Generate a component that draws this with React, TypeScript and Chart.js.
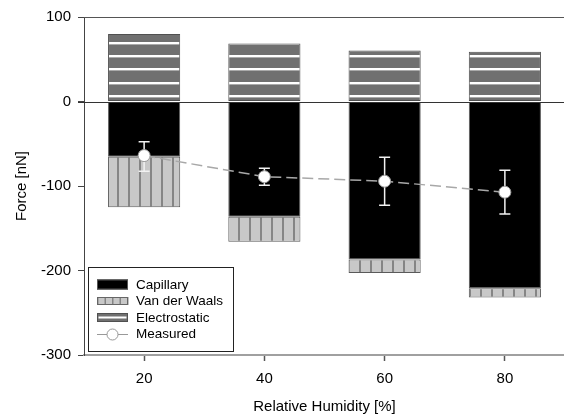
import React, { useEffect, useRef } from "react";
import { Chart, registerables } from "chart.js";

Chart.register(...registerables);

const categories = ["20", "40", "60", "80"];
const capillary = [-65.5, -136.5, -187, -221];
const vanDerWaals = [-59.5, -29.5, -16, -11];
const electrostatic = [80, 68.5, 60.5, 59];
const measured = [-64, -89, -94.3, -107.3];
const measuredHigh = [-47.7, -79, -66, -81.3];
const measuredLow = [-82.5, -99, -122.7, -133];
const yMin = -300;
const yMax = 100;
const yStep = 100;

const FONT = "'Liberation Sans', Arial, sans-serif";
const CANVAS_W = 572;
const CANVAS_H = 417;

function makeHPattern(ctx: CanvasRenderingContext2D) {
  const c = document.createElement("canvas");
  c.width = 8;
  c.height = 40;
  const g = c.getContext("2d")!;
  g.fillStyle = "#707070";
  g.fillRect(0, 0, 8, 40);
  [0, 13, 27].forEach((y) => {
    g.fillStyle = "#ffffff";
    g.fillRect(0, y, 8, 2);
    g.fillStyle = "#d0d0d0";
    g.fillRect(0, y + 2, 8, 0.6);
  });
  const p = ctx.createPattern(c, "repeat")!;
  try {
    p.setTransform(new DOMMatrix().translate(0, 15));
  } catch (e) {}
  return p;
}

function makeVPattern(ctx: CanvasRenderingContext2D) {
  const c = document.createElement("canvas");
  c.width = 11;
  c.height = 8;
  const g = c.getContext("2d")!;
  g.fillStyle = "#c8c8c8";
  g.fillRect(0, 0, 11, 8);
  g.fillStyle = "#858585";
  g.fillRect(0, 0, 2, 8);
  const p = ctx.createPattern(c, "repeat")!;
  try {
    p.setTransform(new DOMMatrix().translate(7, 0));
  } catch (e) {}
  return p;
}

const errorBarPlugin = {
  id: "errorBars",
  beforeDatasetDraw(chart: any, args: any) {
    if (args.index !== 0) return;
    const ctx = chart.ctx;
    const xs = chart.scales.x;
    const ys = chart.scales.y;
    ctx.save();
    ctx.strokeStyle = "#f2f2f2";
    ctx.lineWidth = 1.5;
    for (let i = 0; i < measured.length; i++) {
      const x = xs.getPixelForValue(i);
      const yh = ys.getPixelForValue(measuredHigh[i]);
      const yl = ys.getPixelForValue(measuredLow[i]);
      ctx.beginPath();
      ctx.moveTo(x, yh);
      ctx.lineTo(x, yl);
      ctx.moveTo(x - 5.5, yh);
      ctx.lineTo(x + 5.5, yh);
      ctx.moveTo(x - 5.5, yl);
      ctx.lineTo(x + 5.5, yl);
      ctx.stroke();
    }
    ctx.restore();
  },
};

const framePlugin = {
  id: "frame",
  afterDatasetsDraw(chart: any) {
    const { ctx, chartArea } = chart;
    ctx.save();
    ctx.strokeStyle = "#555555";
    ctx.lineWidth = 1;
    ctx.beginPath();
    ctx.moveTo(chartArea.left, chartArea.top + 0.5);
    ctx.lineTo(chartArea.right, chartArea.top + 0.5);
    ctx.stroke();
    const y0 = Math.round(chart.scales.y.getPixelForValue(0)) + 0.5;
    ctx.strokeStyle = "#333333";
    ctx.beginPath();
    ctx.moveTo(chartArea.left - 6, y0);
    ctx.lineTo(chartArea.right, y0);
    ctx.stroke();
    ctx.restore();
  },
};

const legendPlugin = {
  id: "customLegend",
  afterDraw(chart: any) {
    const ctx = chart.ctx;
    const ds = chart.data.datasets;
    const bx = 88.5, by = 267.5, bw = 145, bh = 84;
    ctx.save();
    ctx.fillStyle = "#ffffff";
    ctx.fillRect(bx, by, bw, bh);
    ctx.strokeStyle = "#222222";
    ctx.lineWidth = 1;
    ctx.strokeRect(bx, by, bw, bh);
    const sx = 97, sw = 31;
    const rows = [284.5, 301, 317.5, 334];
    // Capillary
    ctx.fillStyle = "#000000";
    ctx.fillRect(sx, rows[0] - 5, sw, 10);
    ctx.strokeStyle = "#555";
    ctx.strokeRect(sx + 0.5, rows[0] - 4.5, sw - 1, 9);
    // Van der Waals
    ctx.fillStyle = "#c8c8c8";
    ctx.fillRect(sx, rows[1] - 4, sw, 8);
    ctx.fillStyle = "#858585";
    for (let xx = sx; xx <= sx + sw; xx += 7.5) ctx.fillRect(xx, rows[1] - 4, 1.5, 8);
    ctx.strokeStyle = "#666";
    ctx.strokeRect(sx + 0.5, rows[1] - 3.5, sw - 1, 7);
    // Electrostatic
    ctx.fillStyle = "#707070";
    ctx.fillRect(sx, rows[2] - 4.5, sw, 9);
    ctx.fillStyle = "#ffffff";
    ctx.fillRect(sx + 1.5, rows[2] - 1, sw - 3, 2);
    ctx.strokeStyle = "#505050";
    ctx.strokeRect(sx + 0.5, rows[2] - 4, sw - 1, 8);
    // Measured
    ctx.strokeStyle = "#999999";
    ctx.lineWidth = 1;
    ctx.beginPath();
    ctx.moveTo(sx, rows[3] + 0.5);
    ctx.lineTo(sx + sw, rows[3] + 0.5);
    ctx.stroke();
    ctx.beginPath();
    ctx.arc(sx + sw / 2, rows[3] + 0.5, 5.5, 0, Math.PI * 2);
    ctx.fillStyle = "#ffffff";
    ctx.fill();
    ctx.stroke();
    // labels
    const order = [1, 2, 3, 0];
    ctx.fillStyle = "#000000";
    ctx.font = `13.5px ${FONT}`;
    ctx.textBaseline = "middle";
    ctx.textAlign = "left";
    order.forEach((di, r) => {
      ctx.fillText(ds[di].label, 136, rows[r] + 0.5);
    });
    ctx.restore();
  },
};

export default function App() {
  const ref = useRef<HTMLCanvasElement | null>(null);
  useEffect(() => {
    const canvas = ref.current!;
    const ctx = canvas.getContext("2d")!;
    const hp = makeHPattern(ctx);
    const vp = makeVPattern(ctx);
    const chart = new Chart(canvas, {
      type: "bar",
      data: {
        labels: categories,
        datasets: [
          {
            type: "line",
            label: "Measured",
            data: measured,
            borderColor: "#a8a8a8",
            borderWidth: 1.5,
            borderDash: [11, 5],
            pointRadius: 6,
            pointBackgroundColor: "#ffffff",
            pointBorderColor: "#9a9a9a",
            pointBorderWidth: 1,
            fill: false,
            order: 0,
            stack: "m",
          } as any,
          {
            label: "Capillary",
            data: capillary,
            backgroundColor: "#000000",
            borderColor: "#5a5a5a",
            borderWidth: 1,
            borderSkipped: false,
            stack: "s",
            order: 1,
          },
          {
            label: "Van der Waals",
            data: vanDerWaals,
            backgroundColor: vp as any,
            borderColor: "#5a5a5a",
            borderWidth: 1,
            borderSkipped: false,
            stack: "s",
            order: 1,
          },
          {
            label: "Electrostatic",
            data: electrostatic,
            backgroundColor: hp as any,
            borderColor: "#505050",
            borderWidth: 1,
            borderSkipped: false,
            stack: "s",
            order: 1,
          },
        ],
      },
      options: {
        responsive: false,
        animation: false,
        devicePixelRatio: 1,
        layout: { padding: { top: 17, left: 0, right: 0, bottom: 0 } },
        datasets: {
          bar: { barPercentage: 0.6, categoryPercentage: 1 },
        },
        plugins: {
          legend: { display: false },
          tooltip: { enabled: false },
        },
        scales: {
          x: {
            stacked: true,
            offset: true,
            grid: {
              offset: false,
              drawOnChartArea: false,
              drawTicks: true,
              tickLength: 6,
              tickColor: "#555555",
              tickWidth: 1.5,
            },
            border: { display: true, color: "#a0a0a0", width: 2 },
            ticks: {
              color: "#000000",
              font: { family: FONT, size: 15 },
              padding: 9,
              maxRotation: 0,
            },
            title: {
              display: true,
              text: "Relative Humidity [%]",
              color: "#000000",
              font: { family: FONT, size: 15 },
              padding: { top: 0, bottom: 1 },
            },
            afterFit(scale: any) {
              scale.height = 62;
            },
          },
          y: {
            stacked: true,
            min: yMin,
            max: yMax,
            grid: {
              drawOnChartArea: false,
              drawTicks: true,
              tickLength: 6,
              tickColor: "#444444",
            },
            border: { display: true, color: "#444444", width: 1 },
            ticks: {
              stepSize: yStep,
              color: "#000000",
              font: { family: FONT, size: 15 },
              padding: 7,
            },
            title: {
              display: true,
              text: "Force [nN]",
              color: "#000000",
              font: { family: FONT, size: 15 },
              padding: { top: 13, bottom: 0 },
            },
            afterFit(scale: any) {
              scale.width = 84;
            },
          },
        },
      },
      plugins: [errorBarPlugin, framePlugin, legendPlugin],
    });
    return () => chart.destroy();
  }, []);
  return (
    <div
      style={{
        position: "fixed",
        left: 0,
        top: 0,
        width: 564,
        height: CANVAS_H,
        overflow: "hidden",
        background: "#ffffff",
      }}
    >
      <div style={{ width: CANVAS_W + 20, height: CANVAS_H }}>
        <canvas
          ref={ref}
          width={CANVAS_W}
          height={CANVAS_H}
          style={{ display: "block", width: CANVAS_W, height: CANVAS_H }}
        />
      </div>
    </div>
  );
}
